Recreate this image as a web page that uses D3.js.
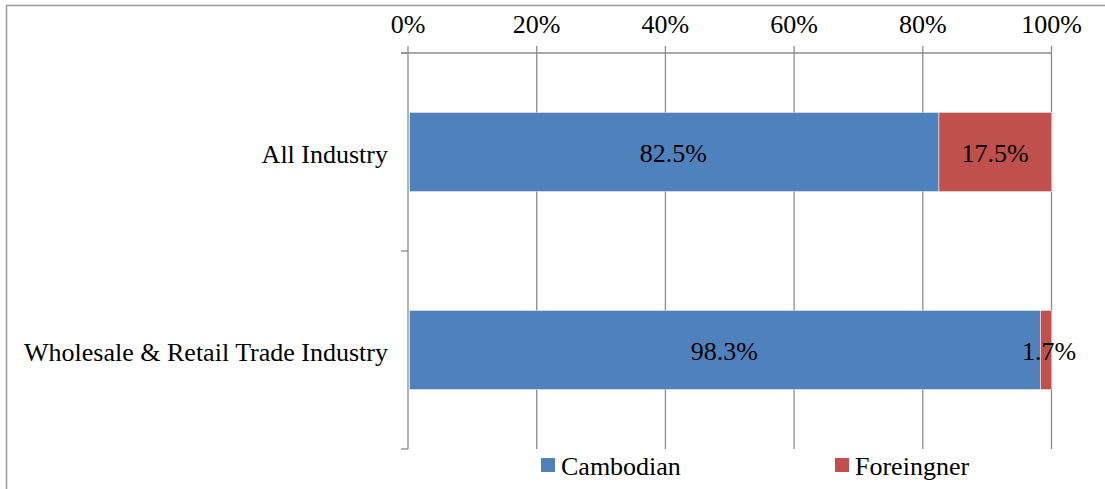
<!DOCTYPE html>
<html><head><meta charset="utf-8">
<script src="https://cdn.jsdelivr.net/npm/d3@7"></script>
<style>body{margin:0;background:#fff;}svg{display:block;}text{font-family:"Liberation Serif","Times New Roman",serif;fill:#000;}</style>
</head><body>
<svg id="c" width="1105" height="489"></svg>
<script>
const categories = ["All Industry", "Wholesale & Retail Trade Industry"];
const seriesNames = ["Cambodian", "Foreingner"];
const cambodian = [82.5, 98.3];
const foreigner = [17.5, 1.7];
const tickValues = [0, 20, 40, 60, 80, 100];
const colors = ["#4F81BD", "#C0504D"];

const svg = d3.select("#c");
const fs = 26;
// frame
svg.append("path").attr("d","M6.5,489 L6.5,5.5 L1105,5.5").attr("fill","none").attr("stroke","#999").attr("stroke-width",1.5);

const x = d3.scaleLinear().domain([0,100]).range([408,1051.5]);
const y = d3.scaleBand().domain(categories).range([53,449]).paddingInner(0.6).paddingOuter(0.3);
const yb = d3.scaleBand().domain(categories).range([53,449]);

// gridlines
svg.append("g").selectAll("line").data(tickValues).join("line")
  .attr("x1",d=>x(d)).attr("x2",d=>x(d)).attr("y1",53).attr("y2",449)
  .attr("stroke","#8c8c8c").attr("stroke-width",1.3);
// top axis line & ticks
svg.append("line").attr("x1",x(0)-7).attr("x2",x(100)).attr("y1",53).attr("y2",53).attr("stroke","#8c8c8c").attr("stroke-width",1.3);
svg.append("g").selectAll("line").data(tickValues).join("line")
  .attr("x1",d=>x(d)).attr("x2",d=>x(d)).attr("y1",46).attr("y2",53).attr("stroke","#8c8c8c").attr("stroke-width",1.3);
svg.append("g").selectAll("text").data(tickValues).join("text")
  .attr("x",d=>x(d)).attr("y",33).attr("text-anchor","middle").attr("font-size",fs)
  .text(d=>d+"%");
// left axis ticks
const bounds = [53, 53+yb.bandwidth(), 449];
svg.append("g").selectAll("line").data(bounds).join("line")
  .attr("x1",401).attr("x2",408).attr("y1",d=>d).attr("y2",d=>d).attr("stroke","#8c8c8c").attr("stroke-width",1.3);

// bars
const stacks = categories.map((c,i)=>{
  const vals=[cambodian[i],foreigner[i]]; let acc=0;
  return vals.map((v,j)=>{const s={cat:c,x0:acc,x1:acc+v,v:v,j:j}; acc+=v; return s;});
}).flat();
svg.append("g").selectAll("rect").data(stacks).join("rect")
  .attr("x",d=>x(d.x0)+(d.j===0?1.5:0)).attr("width",d=>x(d.x1)-x(d.x0)-(d.j===0?1.5:0))
  .attr("y",d=>y(d.cat)).attr("height",y.bandwidth())
  .attr("fill",d=>colors[d.j]).attr("stroke","#fff").attr("stroke-width",0.8).attr("stroke-opacity",0.6);
svg.append("g").selectAll("text").data(stacks).join("text")
  .attr("x",d=>(x(d.x0)+x(d.x1))/2 + (d.v<5?3:0)).attr("y",d=>y(d.cat)+y.bandwidth()/2+10)
  .attr("text-anchor","middle").attr("font-size",fs).text(d=>d.v.toFixed(1)+"%");

// category labels
svg.append("g").selectAll("text").data(categories).join("text")
  .attr("x",388).attr("y",d=>y(d)+y.bandwidth()/2+11).attr("text-anchor","end").attr("font-size",fs)
  .text(d=>d);

// legend
const legX=[541,835];
const lg = svg.append("g").selectAll("g").data(seriesNames).join("g");
lg.append("rect").attr("x",(d,i)=>legX[i]).attr("y",458).attr("width",14).attr("height",14).attr("fill",(d,i)=>colors[i]);
lg.append("text").attr("x",(d,i)=>legX[i]+20).attr("y",475).attr("font-size",fs).text(d=>d);
</script>
</body></html>
